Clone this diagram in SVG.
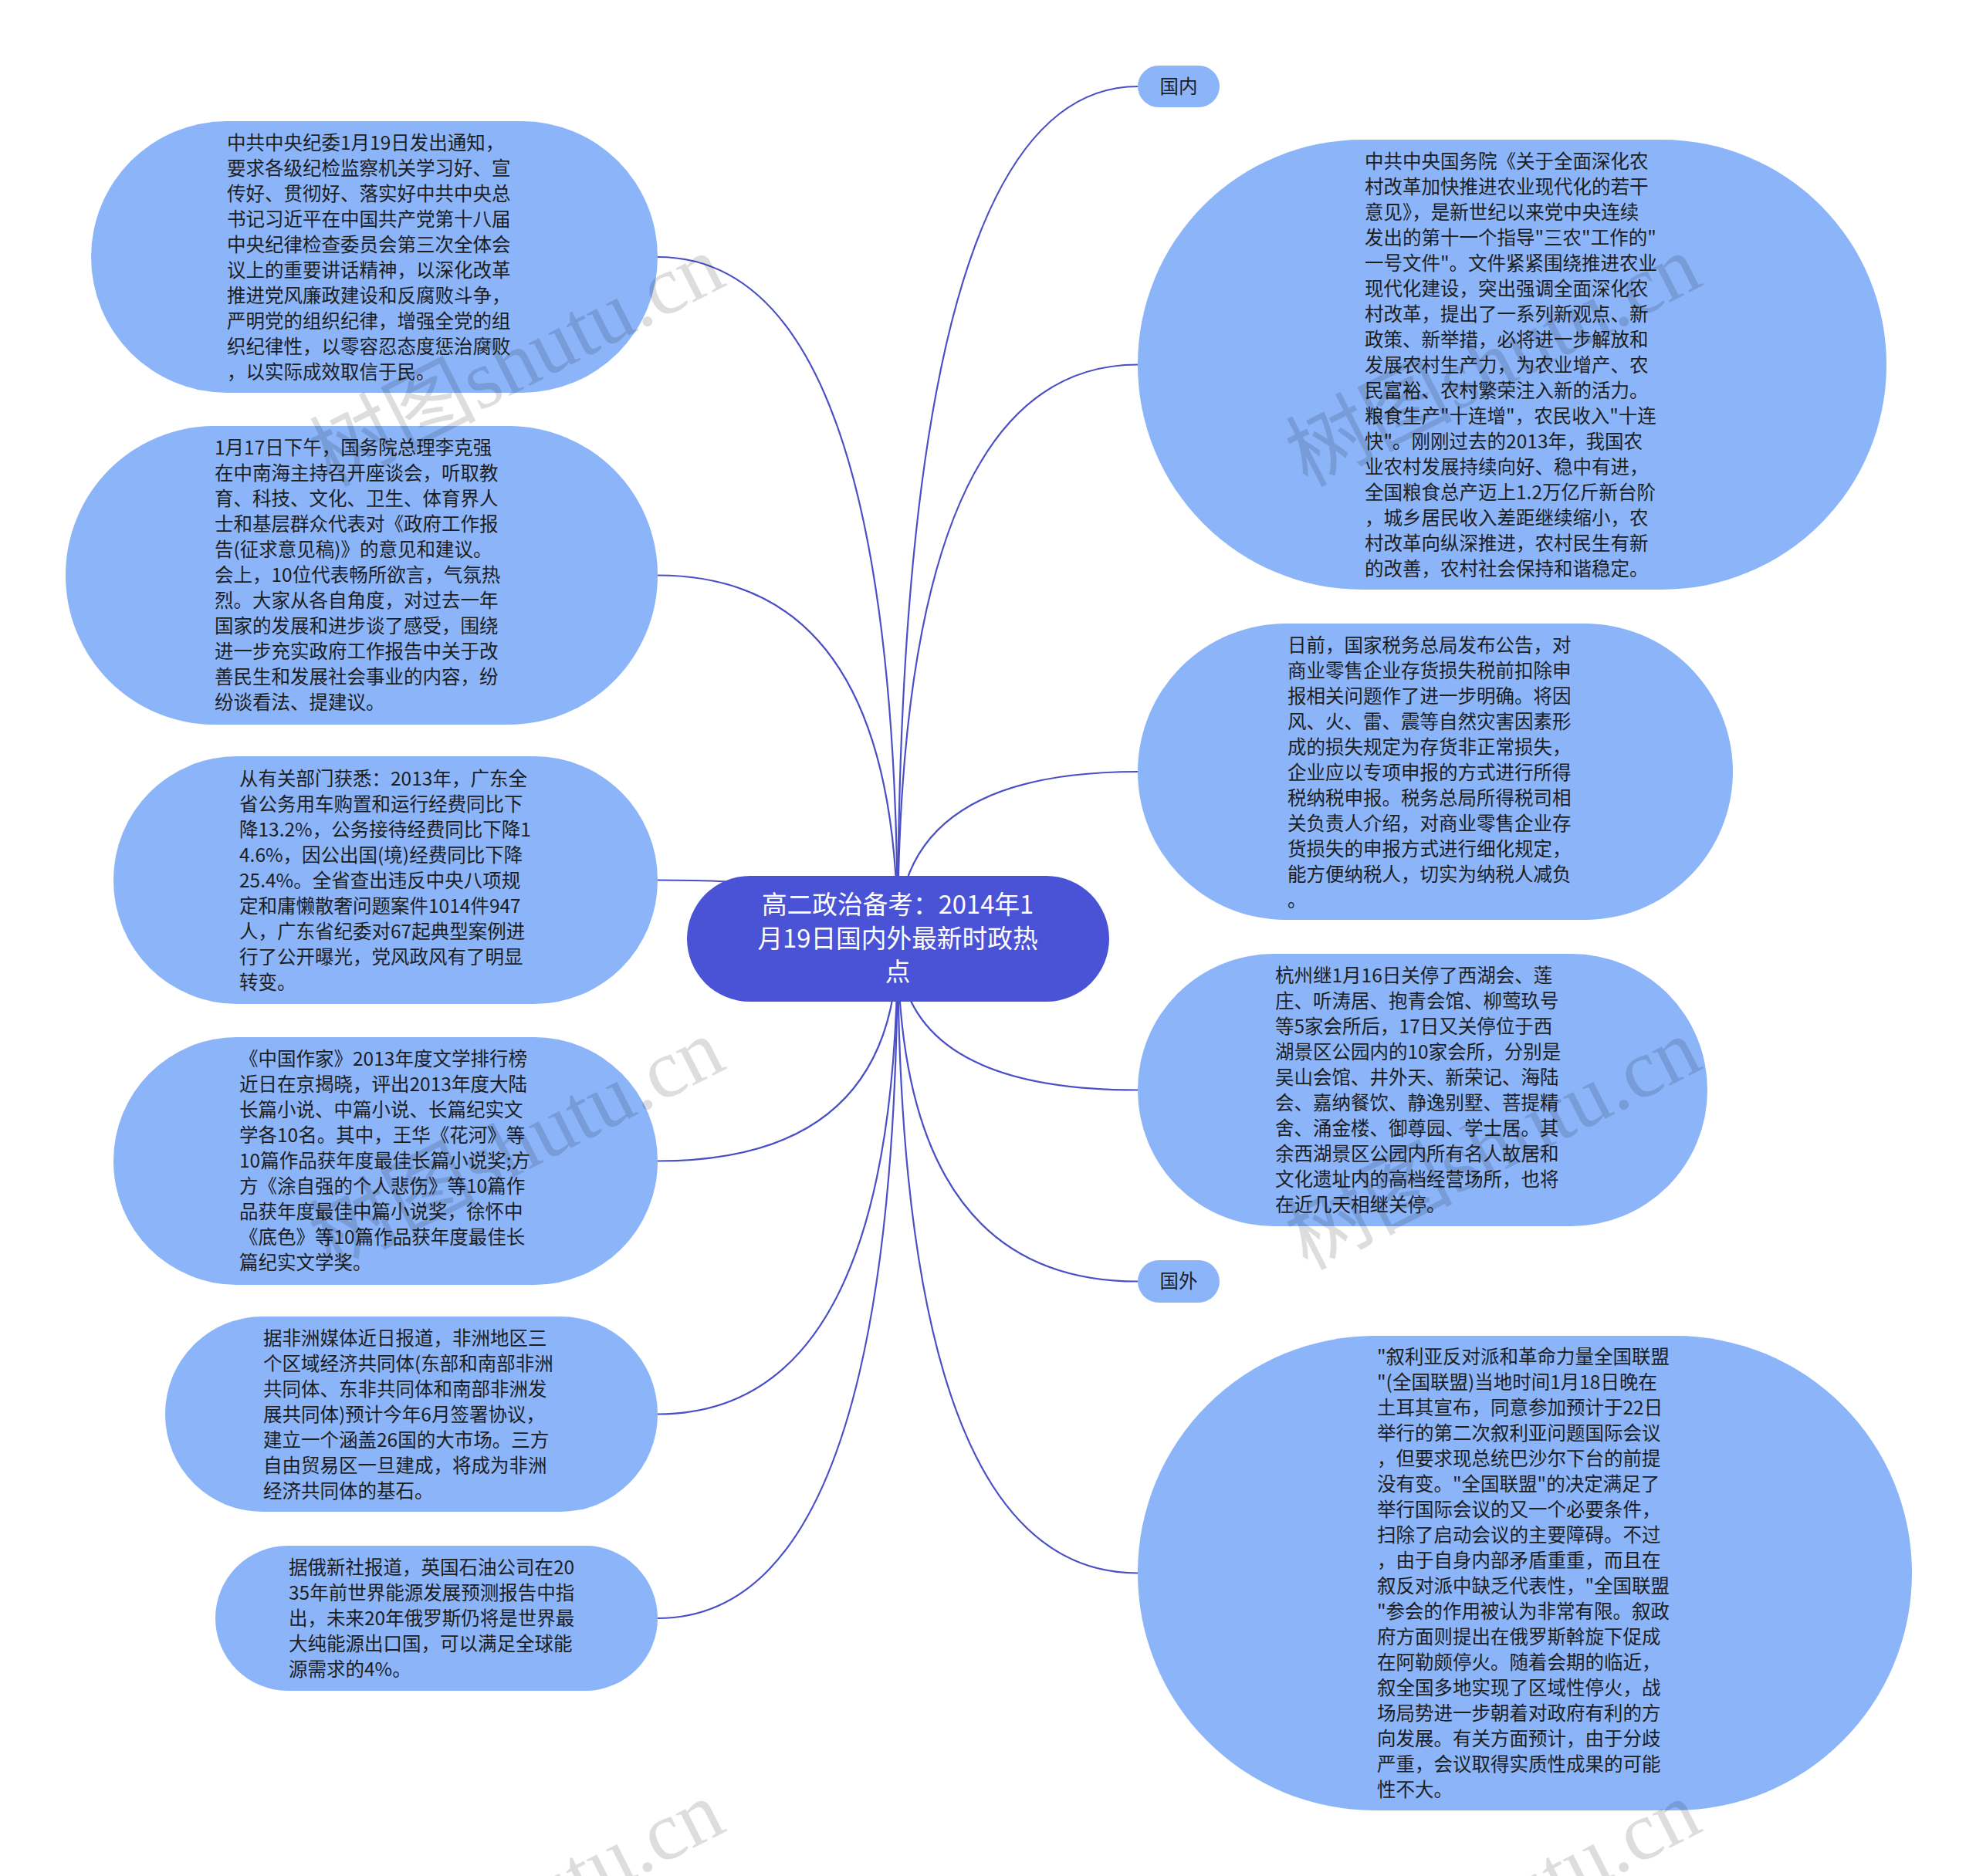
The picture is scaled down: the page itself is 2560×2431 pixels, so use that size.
<svg xmlns="http://www.w3.org/2000/svg" width="2560" height="2431" viewBox="0 0 2560 2431">
<style>
.node{fill:#8BB4F9;}
.root{fill:#4A53D6;}
.t{font-family:"Noto Sans CJK SC","Noto Sans",sans-serif;font-size:24.5px;fill:#1E1E1E;}
.rt{font-family:"Noto Sans CJK SC","Noto Sans",sans-serif;font-size:32.7px;fill:#FFFFFF;text-anchor:middle;}
.lbl{font-family:"Noto Sans CJK SC","Noto Sans",sans-serif;font-size:24.5px;fill:#1E1E1E;text-anchor:middle;}
.c{fill:none;stroke:#4A4FC6;stroke-width:2.2;}
.wm{font-family:"Liberation Serif","Noto Sans CJK SC",serif;font-size:108px;fill:#000;opacity:0.13;}
</style>
<rect width="2560" height="2431" fill="#FFFFFF"/>
<g id="connectors">
<path class="c" d="M1163 1216 Q1163 333 852 333"/>
<path class="c" d="M1163 1216 Q1163 745.5 852 745.5"/>
<path class="c" d="M1163 1216 Q1163 1140.5 852 1140.5"/>
<path class="c" d="M1163 1216 Q1163 1504.5 852 1504.5"/>
<path class="c" d="M1163 1216 Q1163 1832.5 852 1832.5"/>
<path class="c" d="M1163 1216 Q1163 2097 852 2097"/>
<path class="c" d="M1163 1216 Q1163 112 1474 112"/>
<path class="c" d="M1163 1216 Q1163 472.5 1474 472.5"/>
<path class="c" d="M1163 1216 Q1163 1000 1474 1000"/>
<path class="c" d="M1163 1216 Q1163 1412.5 1474 1412.5"/>
<path class="c" d="M1163 1216 Q1163 1660.5 1474 1660.5"/>
<path class="c" d="M1163 1216 Q1163 2038.5 1474 2038.5"/>
</g>
<g id="root">
<rect class="root" x="890" y="1135" width="547" height="163" rx="81.5"/>
<text class="rt"><tspan x="1163" y="1184">高二政治备考：2014年1</tspan><tspan x="1163" y="1228">月19日国内外最新时政热</tspan><tspan x="1163" y="1271">点</tspan></text>
</g>
<g id="n-l1">
<rect class="node" x="118" y="157" width="734" height="352" rx="176"/>
<text class="t"><tspan x="294" y="193.5">中共中央纪委1月19日发出通知，</tspan><tspan x="294" y="226.5">要求各级纪检监察机关学习好、宣</tspan><tspan x="294" y="259.5">传好、贯彻好、落实好中共中央总</tspan><tspan x="294" y="292.5">书记习近平在中国共产党第十八届</tspan><tspan x="294" y="325.5">中央纪律检查委员会第三次全体会</tspan><tspan x="294" y="358.5">议上的重要讲话精神，以深化改革</tspan><tspan x="294" y="391.5">推进党风廉政建设和反腐败斗争，</tspan><tspan x="294" y="424.5">严明党的组织纪律，增强全党的组</tspan><tspan x="294" y="457.5">织纪律性，以零容忍态度惩治腐败</tspan><tspan x="294" y="490.5">，以实际成效取信于民。</tspan></text>
</g>
<g id="n-l2">
<rect class="node" x="85" y="552" width="767" height="387" rx="193"/>
<text class="t"><tspan x="278" y="589">1月17日下午，国务院总理李克强</tspan><tspan x="278" y="622">在中南海主持召开座谈会，听取教</tspan><tspan x="278" y="655">育、科技、文化、卫生、体育界人</tspan><tspan x="278" y="688">士和基层群众代表对《政府工作报</tspan><tspan x="278" y="721">告(征求意见稿)》的意见和建议。</tspan><tspan x="278" y="754">会上，10位代表畅所欲言，气氛热</tspan><tspan x="278" y="787">烈。大家从各自角度，对过去一年</tspan><tspan x="278" y="820">国家的发展和进步谈了感受，围绕</tspan><tspan x="278" y="853">进一步充实政府工作报告中关于改</tspan><tspan x="278" y="886">善民生和发展社会事业的内容，纷</tspan><tspan x="278" y="919">纷谈看法、提建议。</tspan></text>
</g>
<g id="n-l3">
<rect class="node" x="147" y="980" width="705" height="321" rx="160"/>
<text class="t"><tspan x="310" y="1018">从有关部门获悉：2013年，广东全</tspan><tspan x="310" y="1051">省公务用车购置和运行经费同比下</tspan><tspan x="310" y="1084">降13.2%，公务接待经费同比下降1</tspan><tspan x="310" y="1117">4.6%，因公出国(境)经费同比下降</tspan><tspan x="310" y="1150">25.4%。全省查出违反中央八项规</tspan><tspan x="310" y="1183">定和庸懒散奢问题案件1014件947</tspan><tspan x="310" y="1216">人，广东省纪委对67起典型案例进</tspan><tspan x="310" y="1249">行了公开曝光，党风政风有了明显</tspan><tspan x="310" y="1282">转变。</tspan></text>
</g>
<g id="n-l4">
<rect class="node" x="147" y="1344" width="705" height="321" rx="160"/>
<text class="t"><tspan x="310" y="1381">《中国作家》2013年度文学排行榜</tspan><tspan x="310" y="1414">近日在京揭晓，评出2013年度大陆</tspan><tspan x="310" y="1447">长篇小说、中篇小说、长篇纪实文</tspan><tspan x="310" y="1480">学各10名。其中，王华《花河》等</tspan><tspan x="310" y="1513">10篇作品获年度最佳长篇小说奖;方</tspan><tspan x="310" y="1546">方《涂自强的个人悲伤》等10篇作</tspan><tspan x="310" y="1579">品获年度最佳中篇小说奖，徐怀中</tspan><tspan x="310" y="1612">《底色》等10篇作品获年度最佳长</tspan><tspan x="310" y="1645">篇纪实文学奖。</tspan></text>
</g>
<g id="n-l5">
<rect class="node" x="214" y="1706" width="638" height="253" rx="126"/>
<text class="t"><tspan x="341" y="1743">据非洲媒体近日报道，非洲地区三</tspan><tspan x="341" y="1776">个区域经济共同体(东部和南部非洲</tspan><tspan x="341" y="1809">共同体、东非共同体和南部非洲发</tspan><tspan x="341" y="1842">展共同体)预计今年6月签署协议，</tspan><tspan x="341" y="1875">建立一个涵盖26国的大市场。三方</tspan><tspan x="341" y="1908">自由贸易区一旦建成，将成为非洲</tspan><tspan x="341" y="1941">经济共同体的基石。</tspan></text>
</g>
<g id="n-l6">
<rect class="node" x="279" y="2003" width="573" height="188" rx="94"/>
<text class="t"><tspan x="374" y="2040">据俄新社报道，英国石油公司在20</tspan><tspan x="374" y="2073">35年前世界能源发展预测报告中指</tspan><tspan x="374" y="2106">出，未来20年俄罗斯仍将是世界最</tspan><tspan x="374" y="2139">大纯能源出口国，可以满足全球能</tspan><tspan x="374" y="2172">源需求的4%。</tspan></text>
</g>
<g id="n-guonei">
<rect class="node" x="1474" y="85" width="106" height="54" rx="27"/>
<text class="lbl" x="1527" y="121">国内</text>
</g>
<g id="n-r1">
<rect class="node" x="1474" y="181" width="970" height="583" rx="291"/>
<text class="t"><tspan x="1768" y="218">中共中央国务院《关于全面深化农</tspan><tspan x="1768" y="251">村改革加快推进农业现代化的若干</tspan><tspan x="1768" y="284">意见》，是新世纪以来党中央连续</tspan><tspan x="1768" y="317">发出的第十一个指导"三农"工作的"</tspan><tspan x="1768" y="350">一号文件"。文件紧紧围绕推进农业</tspan><tspan x="1768" y="383">现代化建设，突出强调全面深化农</tspan><tspan x="1768" y="416">村改革，提出了一系列新观点、新</tspan><tspan x="1768" y="449">政策、新举措，必将进一步解放和</tspan><tspan x="1768" y="482">发展农村生产力，为农业增产、农</tspan><tspan x="1768" y="515">民富裕、农村繁荣注入新的活力。</tspan><tspan x="1768" y="548">粮食生产"十连增"，农民收入"十连</tspan><tspan x="1768" y="581">快"。刚刚过去的2013年，我国农</tspan><tspan x="1768" y="614">业农村发展持续向好、稳中有进，</tspan><tspan x="1768" y="647">全国粮食总产迈上1.2万亿斤新台阶</tspan><tspan x="1768" y="680">，城乡居民收入差距继续缩小，农</tspan><tspan x="1768" y="713">村改革向纵深推进，农村民生有新</tspan><tspan x="1768" y="746">的改善，农村社会保持和谐稳定。</tspan></text>
</g>
<g id="n-r2">
<rect class="node" x="1474" y="808" width="771" height="384" rx="192"/>
<text class="t"><tspan x="1668" y="845">日前，国家税务总局发布公告，对</tspan><tspan x="1668" y="878">商业零售企业存货损失税前扣除申</tspan><tspan x="1668" y="911">报相关问题作了进一步明确。将因</tspan><tspan x="1668" y="944">风、火、雷、震等自然灾害因素形</tspan><tspan x="1668" y="977">成的损失规定为存货非正常损失，</tspan><tspan x="1668" y="1010">企业应以专项申报的方式进行所得</tspan><tspan x="1668" y="1043">税纳税申报。税务总局所得税司相</tspan><tspan x="1668" y="1076">关负责人介绍，对商业零售企业存</tspan><tspan x="1668" y="1109">货损失的申报方式进行细化规定，</tspan><tspan x="1668" y="1142">能方便纳税人，切实为纳税人减负</tspan><tspan x="1668" y="1175">。</tspan></text>
</g>
<g id="n-r3">
<rect class="node" x="1474" y="1236" width="738" height="353" rx="176"/>
<text class="t"><tspan x="1652" y="1273">杭州继1月16日关停了西湖会、莲</tspan><tspan x="1652" y="1306">庄、听涛居、抱青会馆、柳莺玖号</tspan><tspan x="1652" y="1339">等5家会所后，17日又关停位于西</tspan><tspan x="1652" y="1372">湖景区公园内的10家会所，分别是</tspan><tspan x="1652" y="1405">吴山会馆、井外天、新荣记、海陆</tspan><tspan x="1652" y="1438">会、嘉纳餐饮、静逸别墅、菩提精</tspan><tspan x="1652" y="1471">舍、涌金楼、御尊园、学士居。其</tspan><tspan x="1652" y="1504">余西湖景区公园内所有名人故居和</tspan><tspan x="1652" y="1537">文化遗址内的高档经营场所，也将</tspan><tspan x="1652" y="1570">在近几天相继关停。</tspan></text>
</g>
<g id="n-guowai">
<rect class="node" x="1474" y="1633" width="106" height="55" rx="27.5"/>
<text class="lbl" x="1527" y="1669">国外</text>
</g>
<g id="n-r4">
<rect class="node" x="1474" y="1731" width="1003" height="615" rx="307"/>
<text class="t"><tspan x="1784" y="1767">"叙利亚反对派和革命力量全国联盟</tspan><tspan x="1784" y="1800">"(全国联盟)当地时间1月18日晚在</tspan><tspan x="1784" y="1833">土耳其宣布，同意参加预计于22日</tspan><tspan x="1784" y="1866">举行的第二次叙利亚问题国际会议</tspan><tspan x="1784" y="1899">，但要求现总统巴沙尔下台的前提</tspan><tspan x="1784" y="1932">没有变。"全国联盟"的决定满足了</tspan><tspan x="1784" y="1965">举行国际会议的又一个必要条件，</tspan><tspan x="1784" y="1998">扫除了启动会议的主要障碍。不过</tspan><tspan x="1784" y="2031">，由于自身内部矛盾重重，而且在</tspan><tspan x="1784" y="2064">叙反对派中缺乏代表性，"全国联盟</tspan><tspan x="1784" y="2097">"参会的作用被认为非常有限。叙政</tspan><tspan x="1784" y="2130">府方面则提出在俄罗斯斡旋下促成</tspan><tspan x="1784" y="2163">在阿勒颇停火。随着会期的临近，</tspan><tspan x="1784" y="2196">叙全国多地实现了区域性停火，战</tspan><tspan x="1784" y="2229">场局势进一步朝着对政府有利的方</tspan><tspan x="1784" y="2262">向发展。有关方面预计，由于分歧</tspan><tspan x="1784" y="2295">严重，会议取得实质性成果的可能</tspan><tspan x="1784" y="2328">性不大。</tspan></text>
</g>
<g id="watermarks">
<text class="wm" text-anchor="middle" transform="translate(686 500) rotate(-27)">树图shutu.cn</text>
<text class="wm" text-anchor="middle" transform="translate(1951 500) rotate(-27)">树图shutu.cn</text>
<text class="wm" text-anchor="middle" transform="translate(686 1515) rotate(-27)">树图shutu.cn</text>
<text class="wm" text-anchor="middle" transform="translate(1951 1515) rotate(-27)">树图shutu.cn</text>
<text class="wm" text-anchor="middle" transform="translate(686 2503) rotate(-27)">树图shutu.cn</text>
<text class="wm" text-anchor="middle" transform="translate(1951 2503) rotate(-27)">树图shutu.cn</text>
</g>
</svg>
